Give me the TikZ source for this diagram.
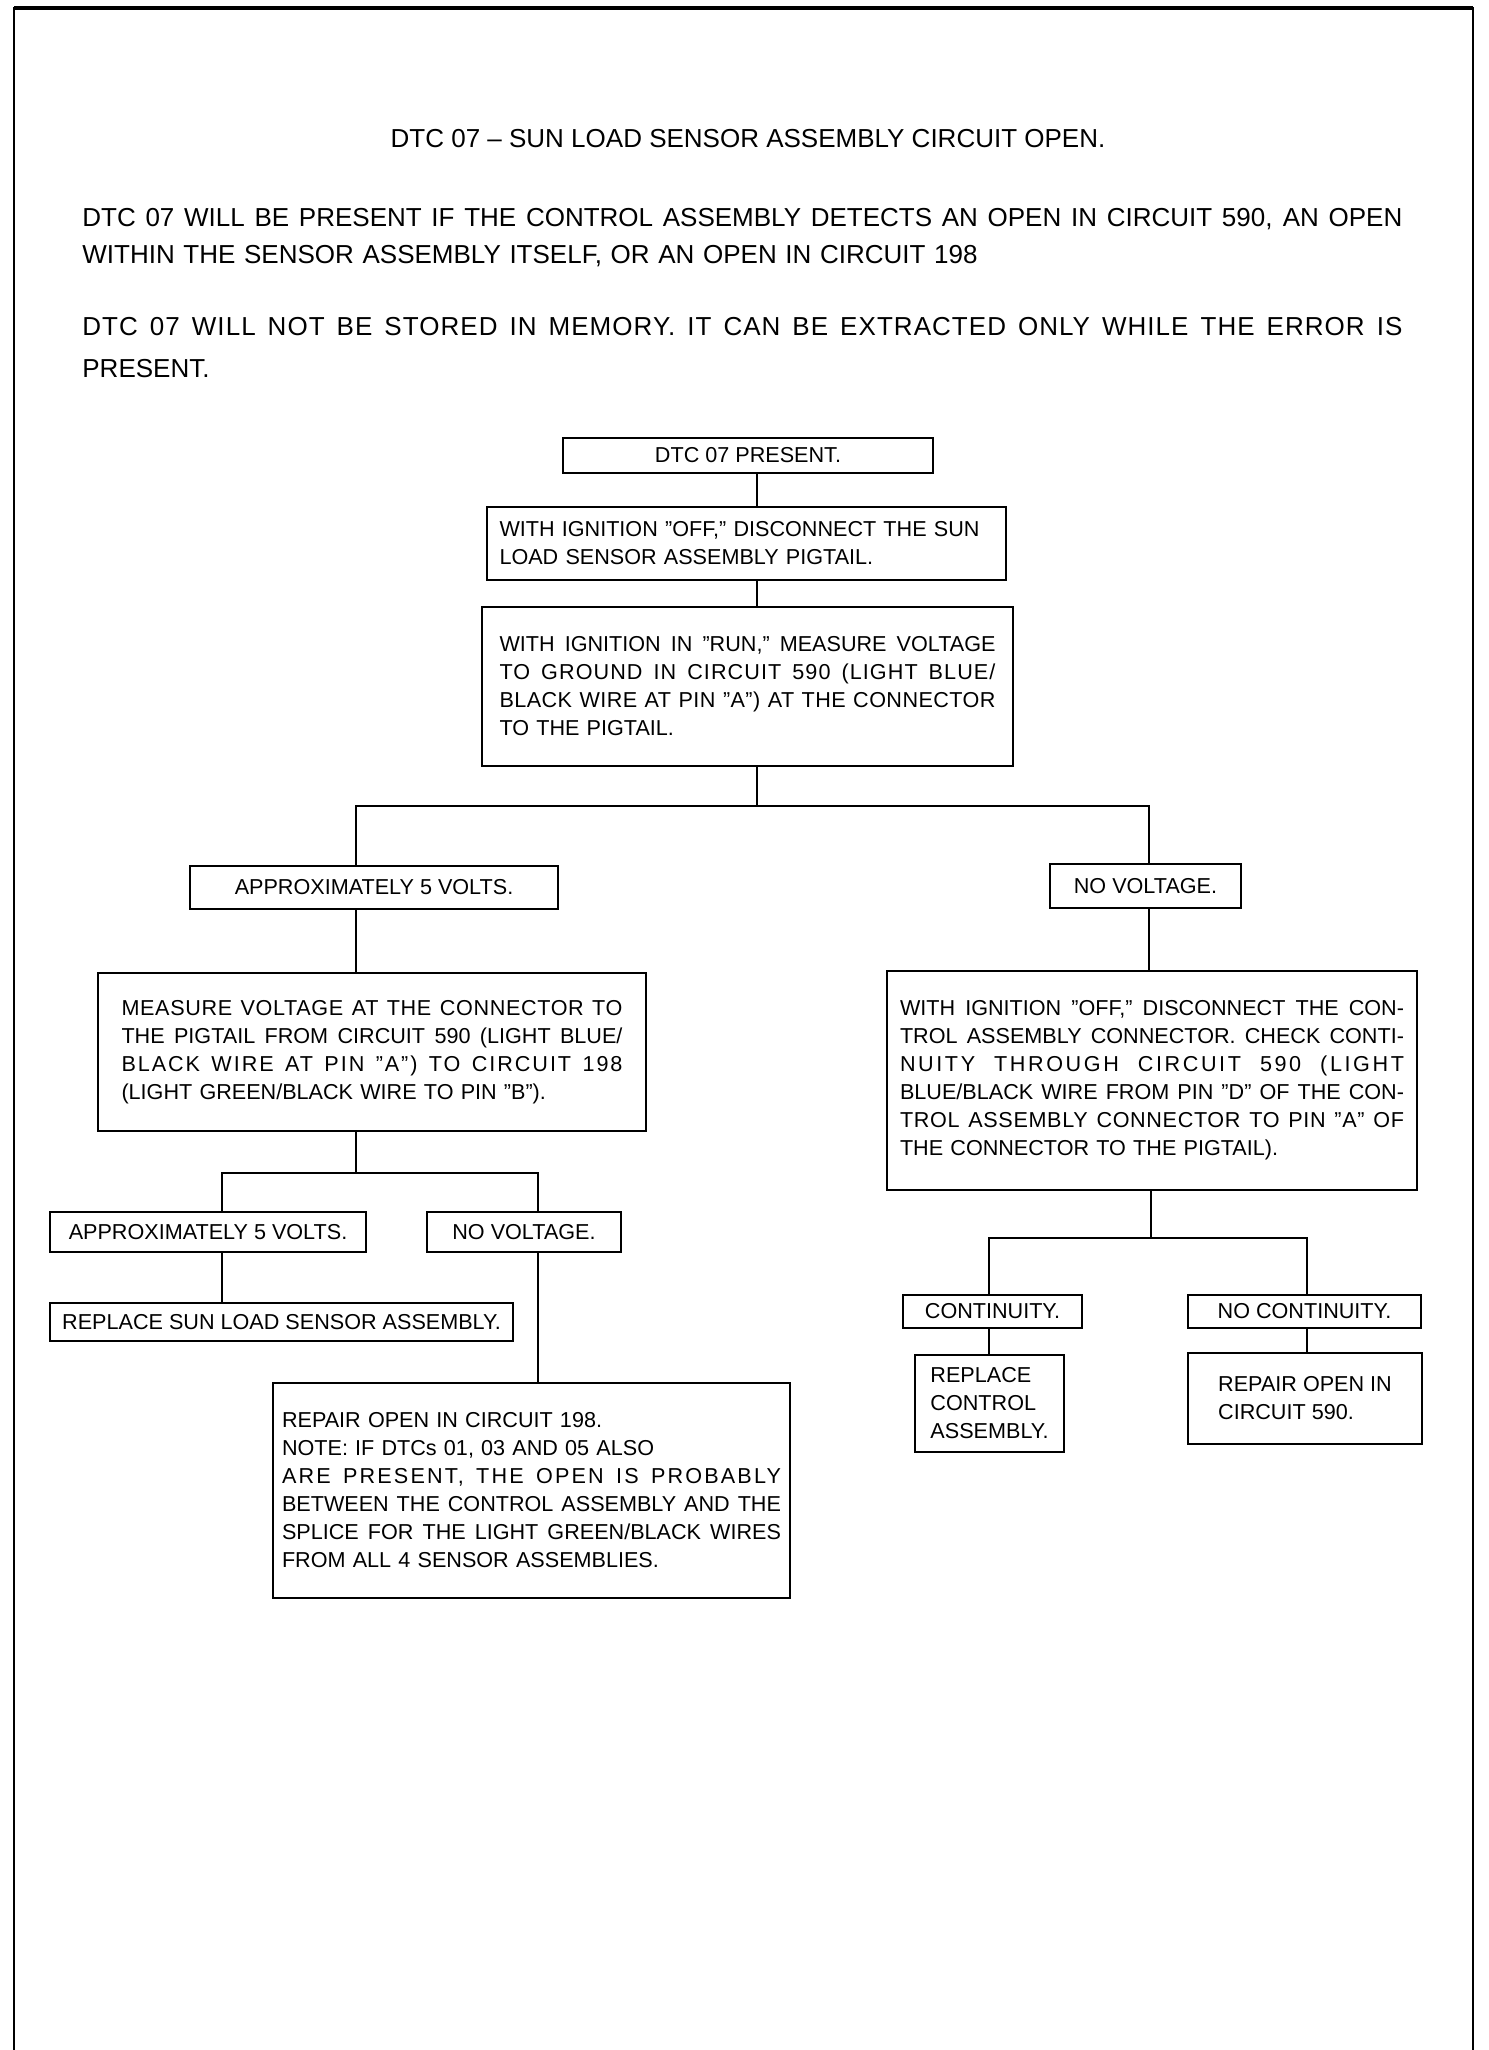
\documentclass[tikz,border=0pt]{standalone}
\usepackage{fontspec}
\setmainfont{Liberation Sans}
\newcommand\boxfont{\fontsize{10.8}{14}\selectfont}
\newcommand\parfont{\fontsize{13}{18.5}\selectfont}
\newcommand\partwofont{\fontsize{13}{21}\selectfont}
\newcommand\J[2][0]{\makebox[\hsize][s]{\addfontfeature{LetterSpace=#1}\spaceskip=.28em plus 1fil minus .08em\relax\xspaceskip=\spaceskip\relax #2}}
\begin{document}
\begin{tikzpicture}[x=0.5pt,y=-0.5pt,
  box/.style={draw, line width=1.2pt, inner sep=0pt, font=\boxfont, align=left},
  conn/.style={line width=1.1pt},
  frame/.style={line width=1pt},
  para/.style={font=\parfont, inner sep=0pt, anchor=base west, text width=660pt, align=left}]
\useasboundingbox (0,0) rectangle (1488,2050);
% page frame
\draw[frame] (14,2050) -- (14,8) -- (1473,8) -- (1473,2050);
\draw[line width=1.6pt] (14,8) -- (1473,8);
% heading and paragraphs
\node[font=\parfont, inner sep=0pt, anchor=base] (title) at (748,148) {DTC 07 – SUN LOAD SENSOR ASSEMBLY CIRCUIT OPEN.};
\node[para] (p1) at (82,226) {\J{DTC 07 WILL BE PRESENT IF THE CONTROL ASSEMBLY DETECTS AN OPEN IN CIRCUIT 590, AN OPEN}\\WITHIN THE SENSOR ASSEMBLY ITSELF, OR AN OPEN IN CIRCUIT 198};
\node[para, font=\partwofont] (p2) at (82,335) {\J[4]{DTC 07 WILL NOT BE STORED IN MEMORY. IT CAN BE EXTRACTED ONLY WHILE THE ERROR IS}\\PRESENT.};
% boxes
\node[box, minimum width=185pt, minimum height=17.5pt] (b1) at (748,455.5) {DTC 07 PRESENT.};
\node[box, minimum width=259.5pt, minimum height=36.5pt, text width=247pt] (b2) at (746.5,543.5) {WITH IGNITION ''OFF,'' DISCONNECT THE SUN\\LOAD SENSOR ASSEMBLY PIGTAIL.};
\node[box, minimum width=265.5pt, minimum height=79.5pt, text width=248pt] (b3) at (747.5,686.5) {\J{WITH IGNITION IN ''RUN,'' MEASURE VOLTAGE}\\\J[5]{TO GROUND IN CIRCUIT 590 (LIGHT BLUE/}\\\J[2]{BLACK WIRE AT PIN ''A'') AT THE CONNECTOR}\\TO THE PIGTAIL.};
\node[box, minimum width=184pt, minimum height=21.5pt] (la) at (374,887.5) {APPROXIMATELY 5 VOLTS.};
\node[box, minimum width=95.5pt, minimum height=22pt] (nv) at (1145.5,886) {NO VOLTAGE.};
\node[box, minimum width=274pt, minimum height=79pt, text width=250.5pt] (meas) at (372,1052) {\J[3]{MEASURE VOLTAGE AT THE CONNECTOR TO}\\\J{THE PIGTAIL FROM CIRCUIT 590 (LIGHT BLUE/}\\\J[9]{BLACK WIRE AT PIN ''A'') TO CIRCUIT 198}\\(LIGHT GREEN/BLACK WIRE TO PIN ''B'').};
\node[box, minimum width=265pt, minimum height=109.5pt, text width=252pt] (rt) at (1152,1080.5) {\J{WITH IGNITION ''OFF,'' DISCONNECT THE CON-}\\\J{TROL ASSEMBLY CONNECTOR. CHECK CONTI-}\\\J[12]{NUITY THROUGH CIRCUIT 590 (LIGHT}\\\J{BLUE/BLACK WIRE FROM PIN ''D'' OF THE CON-}\\\J[3]{TROL ASSEMBLY CONNECTOR TO PIN ''A'' OF}\\THE CONNECTOR TO THE PIGTAIL).\par\vspace*{9pt}};
\node[box, minimum width=158pt, minimum height=20pt] (a2) at (208,1232) {APPROXIMATELY 5 VOLTS.};
\node[box, minimum width=97pt, minimum height=20pt] (n2) at (524,1232) {NO VOLTAGE.};
\node[box, minimum width=231.5pt, minimum height=19pt] (rs) at (281.5,1322) {REPLACE SUN LOAD SENSOR ASSEMBLY.};
\node[box, minimum width=258.5pt, minimum height=107.5pt, text width=249.5pt] (r198) at (531.5,1490.5) {REPAIR OPEN IN CIRCUIT 198.\\NOTE: IF DTCs 01, 03 AND 05 ALSO\\\J[10]{ARE PRESENT, THE OPEN IS PROBABLY}\\\J{BETWEEN THE CONTROL ASSEMBLY AND THE}\\\J{SPLICE FOR THE LIGHT GREEN/BLACK WIRES}\\FROM ALL 4 SENSOR ASSEMBLIES.};
\node[box, minimum width=89.5pt, minimum height=16.5pt] (ct) at (992.5,1311.5) {CONTINUITY.};
\node[box, minimum width=116.5pt, minimum height=16.5pt] (nc) at (1304.5,1311.5) {NO CONTINUITY.};
\node[box, minimum width=74.5pt, minimum height=48.5pt] (rc) at (989.5,1403.5) {REPLACE\\CONTROL\\ASSEMBLY.};
\node[box, minimum width=117pt, minimum height=45.5pt] (r590) at (1305,1398.5) {REPAIR OPEN IN\\CIRCUIT 590.};
% junction points
\coordinate (s0) at (757,806);
\coordinate (jL) at (356,806);
\coordinate (jR) at (1149,806);
\coordinate (k0) at (356,1173);
\coordinate (kL) at (222,1173);
\coordinate (kR) at (538,1173);
\coordinate (m0) at (1151,1238);
\coordinate (mL) at (989,1238);
\coordinate (mR) at (1307,1238);
% connectors
\draw[conn] (b1.south -| s0) -- (b2.north -| s0);
\draw[conn] (b2.south -| s0) -- (b3.north -| s0);
\draw[conn] (b3.south -| s0) -- (s0);
\draw[conn] (la.north -| jL) -- (jL) -- (jR) -- (nv.north -| jR);
\draw[conn] (la.south -| jL) -- (meas.north -| jL);
\draw[conn] (nv.south -| jR) -- (rt.north -| jR);
\draw[conn] (meas.south -| k0) -- (k0);
\draw[conn] (a2.north -| kL) -- (kL) -- (kR) -- (n2.north -| kR);
\draw[conn] (a2.south -| kL) -- (rs.north -| kL);
\draw[conn] (n2.south -| kR) -- (r198.north -| kR);
\draw[conn] (rt.south -| m0) -- (m0);
\draw[conn] (ct.north -| mL) -- (mL) -- (mR) -- (nc.north -| mR);
\draw[conn] (ct.south -| mL) -- (rc.north -| mL);
\draw[conn] (nc.south -| mR) -- (r590.north -| mR);
\end{tikzpicture}
\end{document}
